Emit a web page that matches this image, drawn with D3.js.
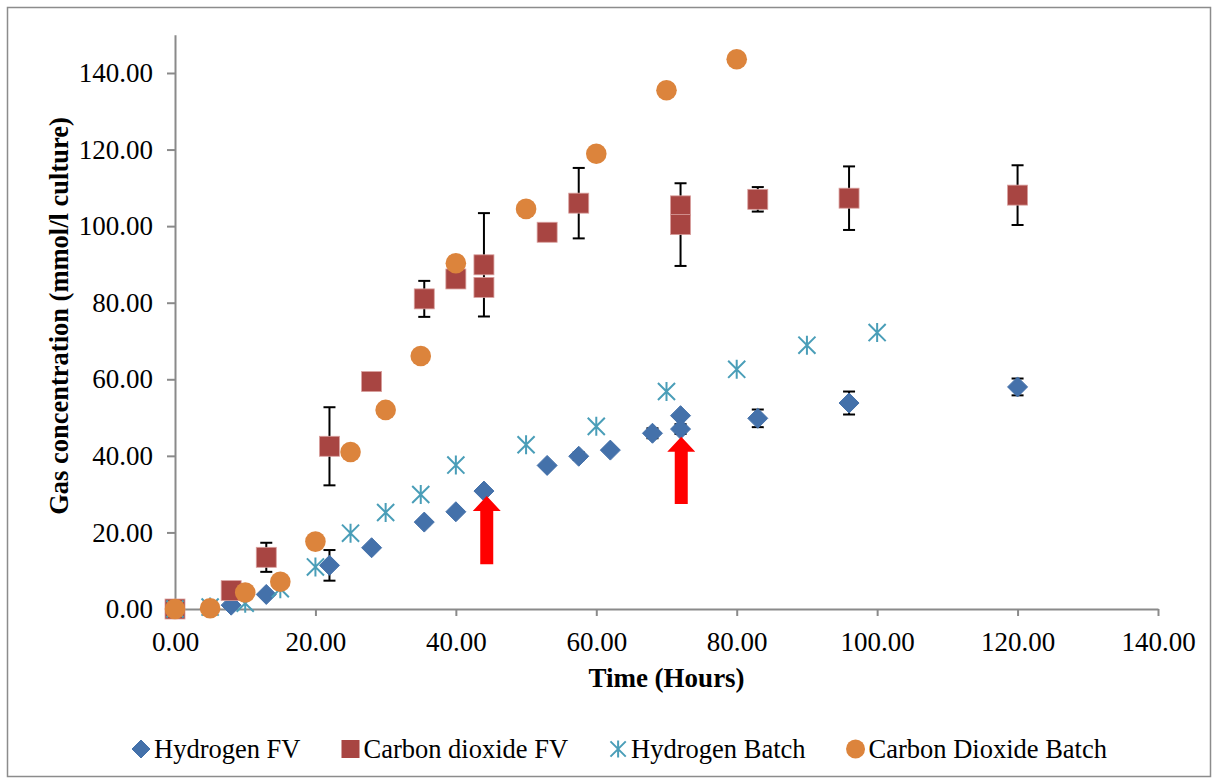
<!DOCTYPE html>
<html>
<head>
<meta charset="utf-8">
<script src="https://cdn.jsdelivr.net/npm/d3@7"></script>
<style>
  html, body { margin: 0; padding: 0; background: #fff; }
  svg { display: block; }
  text { font-family: "Liberation Serif", "Times New Roman", serif; fill: #000; }
</style>
</head>
<body>
<svg id="chart" width="1218" height="784"></svg>
<script>
// ---- data ----
const seriesNames = ["Hydrogen FV", "Carbon dioxide FV", "Hydrogen Batch", "Carbon Dioxide Batch"];

const hydrogenFVTime = [0, 8, 13, 22, 28, 35.5, 40, 44, 53, 57.5, 62, 68, 72, 72, 83, 96, 120];
const hydrogenFV     = [0, 1.0, 3.8, 11.4, 16.0, 22.7, 25.4, 30.8, 37.5, 39.9, 41.5, 45.9, 50.5, 47.0, 49.8, 53.8, 58.0];
const hydrogenFVErr  = [0, 0, 0, 4.0, 0, 0.8, 0, 0, 0, 1.0, 0, 1.3, 0, 1.3, 2.3, 3.0, 2.2];

const co2FVTime = [0, 8, 13, 22, 28, 35.5, 40, 44, 44, 53, 57.5, 72, 72, 83, 96, 120];
const co2FV     = [0, 4.8, 13.5, 42.5, 59.4, 81.0, 86.2, 89.9, 84.0, 98.4, 106.0, 105.3, 100.4, 107.0, 107.3, 108.1];
const co2FVErr  = [0, 0, 3.8, 10.2, 0, 4.7, 0, 13.5, 0, 0, 9.2, 0, 10.8, 3.2, 8.3, 7.8];

const hydrogenBatchTime = [0, 5, 10, 15, 20, 25, 30, 35, 40, 50, 60, 70, 80, 90, 100];
const hydrogenBatch     = [0, 0.5, 1.5, 5.3, 11.0, 19.8, 25.2, 29.9, 37.6, 42.9, 47.7, 56.8, 62.6, 68.9, 72.2];

const co2BatchTime = [0, 5, 10, 15, 20, 25, 30, 35, 40, 50, 60, 70, 80];
const co2Batch     = [0, 0.2, 4.3, 7.1, 17.6, 41.0, 52.0, 66.1, 90.3, 104.5, 118.9, 135.5, 143.6];

// feed-addition markers (time, tail value, tip value)
const arrowTimes = [44.4, 72.1];
const arrowTails = [11.7, 27.4];
const arrowTips  = [29.5, 45.0];

const xTicks = [0, 20, 40, 60, 80, 100, 120, 140];
const yTicks = [0, 20, 40, 60, 80, 100, 120, 140];

// ---- layout ----
const svg = d3.select("#chart");
const x = d3.scaleLinear().domain([0, 140]).range([175, 1158]);
const y = d3.scaleLinear().domain([0, 150]).range([609, 34.7]);
const fmt = d3.format(".2f");

const colors = { hFV: "#4471AA", cFV: "#A84542", hB: "#4A9EB8", cB: "#DC843C" };
const axisColor = "#8a8a8a";

// outer chart frame
svg.append("rect")
  .attr("x", 7.5).attr("y", 7.5).attr("width", 1203).attr("height", 769)
  .attr("fill", "#fff").attr("stroke", "#8c8c8c").attr("stroke-width", 1.5);

// axes
const yAxis = svg.append("g").attr("transform", `translate(${x(0)},0)`)
  .call(d3.axisLeft(y).tickValues(yTicks).tickFormat(fmt).tickSize(8).tickSizeOuter(0).tickPadding(14));
const xAxis = svg.append("g").attr("transform", `translate(0,${y(0)})`)
  .call(d3.axisBottom(x).tickValues(xTicks).tickFormat(fmt).tickSize(7).tickSizeOuter(0).tickPadding(16));

[yAxis, xAxis].forEach(g => {
  g.select(".domain").attr("stroke", axisColor).attr("stroke-width", 2);
  g.selectAll(".tick line").attr("stroke", axisColor).attr("stroke-width", 2);
  g.selectAll(".tick text").attr("font-size", 27).attr("fill", "#000")
    .style("font-family", "'Liberation Serif', 'Times New Roman', serif");
});

// axis titles
svg.append("text")
  .attr("x", (x(0) + x(140)) / 2).attr("y", 687)
  .attr("text-anchor", "middle").attr("font-size", 27).attr("font-weight", "bold")
  .text("Time (Hours)");
svg.append("text")
  .attr("transform", `translate(68,${316}) rotate(-90)`)
  .attr("text-anchor", "middle").attr("font-size", 26.5).attr("font-weight", "bold")
  .text("Gas concentration (mmol/l culture)");

// ---- marker shapes ----
function drawDiamond(g, cx, cy, r) {
  g.append("path")
    .attr("d", `M${cx},${cy - r}L${cx + r},${cy}L${cx},${cy + r}L${cx - r},${cy}Z`)
    .attr("fill", colors.hFV).attr("stroke", colors.hFV).attr("stroke-width", 1).attr("stroke-linejoin", "round");
}
function drawSquare(g, cx, cy, h) {
  g.append("rect")
    .attr("x", cx - h).attr("y", cy - h).attr("width", 2 * h).attr("height", 2 * h)
    .attr("fill", colors.cFV).attr("stroke", "#d9a09e").attr("stroke-width", 0.8);
}
function drawStar(g, cx, cy, r) {
  const d = r * 0.9;
  g.append("path")
    .attr("d", `M${cx},${cy - r}L${cx},${cy + r}M${cx - d},${cy - d}L${cx + d},${cy + d}M${cx - d},${cy + d}L${cx + d},${cy - d}`)
    .attr("stroke", colors.hB).attr("stroke-width", 2).attr("fill", "none");
}
function drawCircle(g, cx, cy, r) {
  g.append("circle").attr("cx", cx).attr("cy", cy).attr("r", r).attr("fill", colors.cB);
}

// ---- error bars ----
function drawErrors(times, vals, errs) {
  const g = svg.append("g").attr("stroke", "#000").attr("stroke-width", 2).attr("fill", "none");
  times.forEach((t, i) => {
    const e = errs[i];
    if (!e) return;
    const cx = x(t), y1 = y(vals[i] - e), y2 = y(vals[i] + e);
    g.append("line").attr("x1", cx).attr("x2", cx).attr("y1", y1).attr("y2", y2);
    g.append("line").attr("x1", cx - 6).attr("x2", cx + 6).attr("y1", y1).attr("y2", y1);
    g.append("line").attr("x1", cx - 6).attr("x2", cx + 6).attr("y1", y2).attr("y2", y2);
  });
}
drawErrors(hydrogenFVTime, hydrogenFV, hydrogenFVErr);
drawErrors(co2FVTime, co2FV, co2FVErr);

// ---- series markers ----
const gH = svg.append("g");
hydrogenFVTime.forEach((t, i) => drawDiamond(gH, x(t), y(hydrogenFV[i]), 10));
const gC = svg.append("g");
co2FVTime.forEach((t, i) => drawSquare(gC, x(t), y(co2FV[i]), 10));
const gHB = svg.append("g");
hydrogenBatchTime.forEach((t, i) => drawStar(gHB, x(t), y(hydrogenBatch[i]), 9.5));
const gCB = svg.append("g");
co2BatchTime.forEach((t, i) => drawCircle(gCB, x(t), y(co2Batch[i]), 10.3));

// ---- red arrows ----
const shaftHalf = 6.5, headHalf = 14, headLen = 15;
arrowTimes.forEach((t, i) => {
  const cx = x(t), yTail = y(arrowTails[i]), yTip = y(arrowTips[i]), yBase = yTip + headLen;
  const pts = [
    [cx - shaftHalf, yTail], [cx - shaftHalf, yBase], [cx - headHalf, yBase],
    [cx, yTip], [cx + headHalf, yBase], [cx + shaftHalf, yBase], [cx + shaftHalf, yTail]
  ];
  svg.append("polygon").attr("points", pts.map(p => p.join(",")).join(" ")).attr("fill", "#ff0000");
});

// ---- legend ----
const legend = svg.append("g");
const drawers = [
  (g, cx, cy) => drawDiamond(g, cx, cy, 9),
  (g, cx, cy) => { g.append("rect").attr("x", cx - 9).attr("y", cy - 9).attr("width", 18).attr("height", 18).attr("fill", colors.cFV); },
  (g, cx, cy) => drawStar(g, cx, cy, 8.5),
  (g, cx, cy) => drawCircle(g, cx, cy, 9.5)
];
const legendY = 749;
const items = seriesNames.map((name, i) => {
  const g = legend.append("g");
  const txt = g.append("text").attr("font-size", 26.5).attr("y", legendY + 8.5).text(name);
  return { g, txt, w: txt.node().getComputedTextLength(), i };
});
const markerW = 20, markerGap = 3, itemGap = 40;
const total = d3.sum(items, d => markerW + markerGap + d.w) + itemGap * (items.length - 1);
let cursor = 619 - total / 2;
items.forEach(d => {
  drawers[d.i](d.g, cursor + markerW / 2, legendY);
  d.txt.attr("x", cursor + markerW + markerGap);
  cursor += markerW + markerGap + d.w + itemGap;
});
</script>
</body>
</html>
